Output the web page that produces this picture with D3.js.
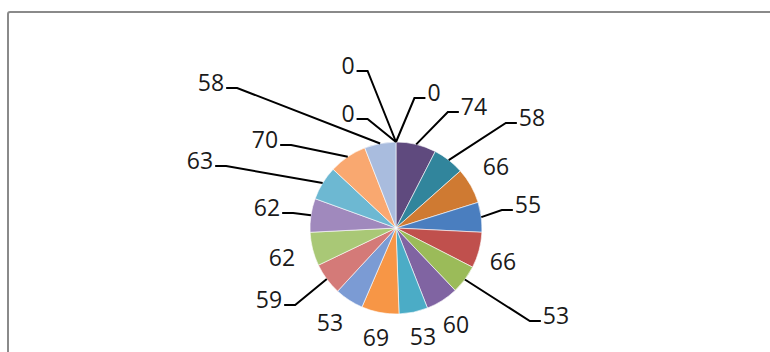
<!DOCTYPE html>
<html>
<head>
<meta charset="utf-8">
<script src="https://cdn.jsdelivr.net/npm/d3@7"></script>
<style>
  html, body { margin: 0; padding: 0; background: #fff; overflow: hidden; }
  svg { display: block; }
</style>
</head>
<body>
<svg id="chart" width="770" height="352"></svg>
<script>
// Slice values, drawn clockwise from 12 o'clock
const values = [0, 0, 0, 74, 58, 66, 55, 66, 53, 60, 53, 69, 53, 59, 62, 62, 63, 70, 58];
const labels = values.map(String);

// Slice fills, one per point
const colors = [
  "#3a6091", "#953735", "#76923c",
  "#5f4a7e", "#31859c", "#cf7a32",
  "#4a7ebf", "#c0504d", "#9bbb59", "#8064a2", "#4bacc6", "#f79646",
  "#7b9bd4", "#d47a78", "#a9c876", "#a089bd", "#6db8d2", "#f9a870",
  "#a9bcde"
];

// Label placement: text centre relative to pie centre, and whether a leader line is drawn
const labelOffsets = [
  [-48, -163], [-48, -115], [38, -136],
  [78, -122], [136, -111], [100, -62], [132, -24], [107, 33], [160, 87],
  [60, 96], [27, 108], [-20, 109], [-66, 94], [-127, 71], [-114, 29],
  [-129, -21], [-196, -68], [-131, -89], [-185, -146]
];
const hasLeader = [
  true, true, true,
  true, true, false, true, false, true,
  false, false, false, false, true, false,
  true, true, true, true
];

const svg = d3.select("#chart");
const W = 770, H = 352;
const cx = 396, cy = 228, R = 86;

// chart area frame (runs past the right and bottom edges)
svg.append("rect")
  .attr("x", 8).attr("y", 12)
  .attr("width", W + 20).attr("height", H + 20)
  .attr("rx", 2)
  .attr("fill", "#fff")
  .attr("stroke", "#8a8a8a")
  .attr("stroke-width", 2);

const pie = d3.pie().sort(null).value(d => d.v).startAngle(0).endAngle(2 * Math.PI);
const arc = d3.arc().innerRadius(0).outerRadius(R);
const data = values.map((v, i) => ({ v, i }));
const arcs = pie(data);

const g = svg.append("g").attr("transform", `translate(${cx},${cy})`);

g.selectAll("path.slice")
  .data(arcs.filter(d => d.data.v > 0))
  .join("path")
  .attr("class", "slice")
  .attr("d", arc)
  .attr("fill", d => colors[d.data.i])
  .attr("stroke", "#ffffff")
  .attr("stroke-width", 0.6);

const fontSize = 23;
const labelG = g.append("g");

arcs.forEach((d, i) => {
  const [tx, ty] = labelOffsets[i];
  const text = labelG.append("text")
    .attr("x", tx)
    .attr("y", ty)
    .attr("text-anchor", "middle")
    .attr("dominant-baseline", "central")
    .attr("font-family", "'Open Sans', 'Liberation Sans', sans-serif")
    .attr("font-size", fontSize)
    .attr("fill", "#1a1a1a")
    .text(labels[i]);

  if (!hasLeader[i]) return;
  const w = text.node().getComputedTextLength();
  const mid = (d.startAngle + d.endAngle) / 2;
  const sx = R * Math.sin(mid), sy = -R * Math.cos(mid);
  const right = tx > sx;
  const ex = right ? tx - w / 2 - 2 : tx + w / 2 + 2;
  const ey = ty + 6;
  const bx = right ? ex - 11 : ex + 11;
  labelG.append("path")
    .attr("d", d3.line()([[sx, sy], [bx, ey], [ex, ey]]))
    .attr("fill", "none")
    .attr("stroke", "#000")
    .attr("stroke-width", 2);
});
</script>
</body>
</html>
